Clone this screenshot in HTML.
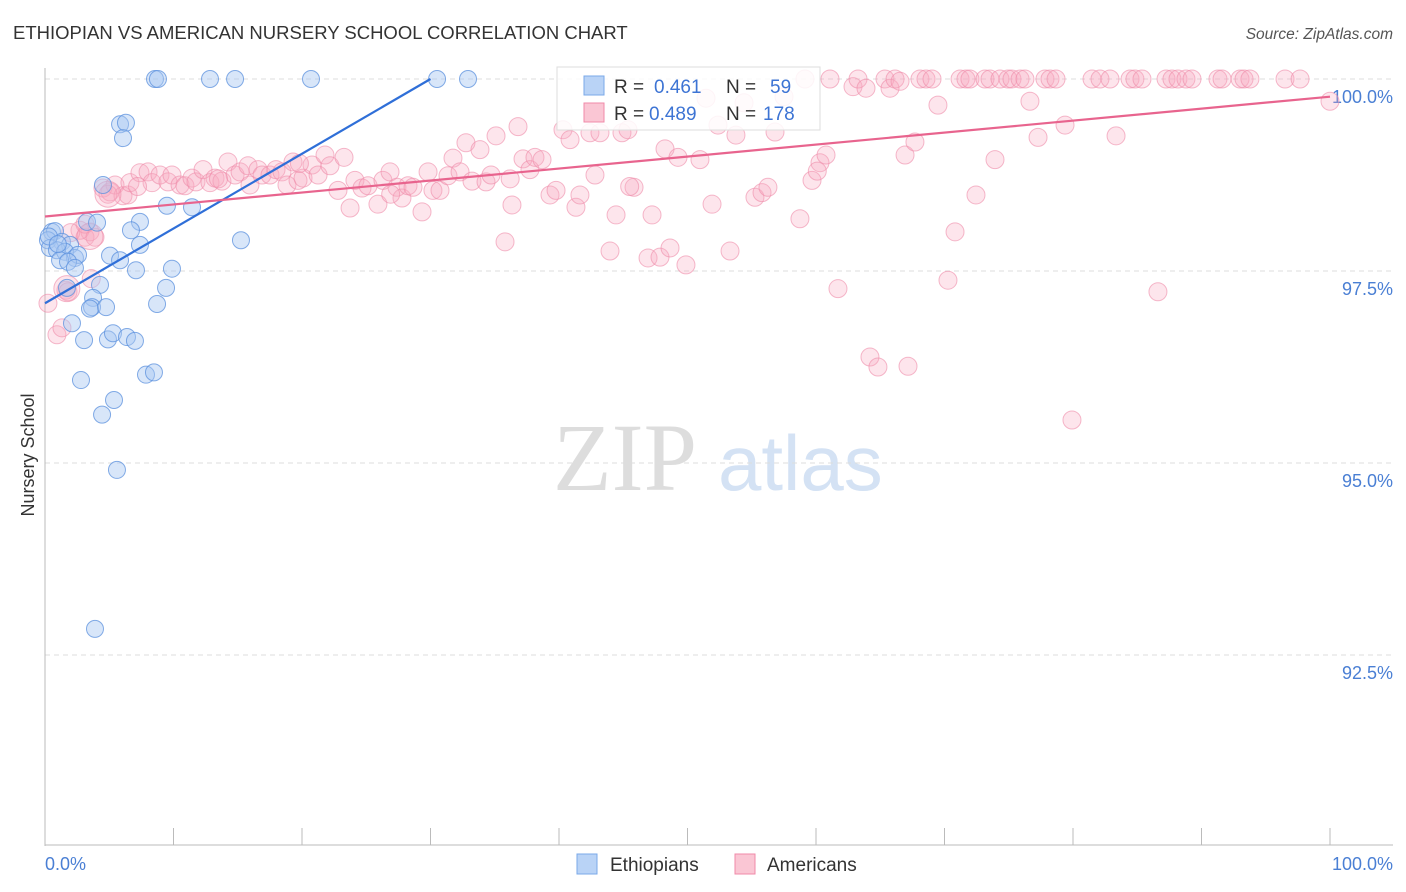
<!DOCTYPE html>
<html><head><meta charset="utf-8">
<style>
body{margin:0;background:#fff;font-family:"Liberation Sans",sans-serif;}
svg{display:block}
</style></head>
<body>
<svg id="chart" width="1406" height="892">
<text x="13" y="39" font-size="18.5" fill="#333">ETHIOPIAN VS AMERICAN NURSERY SCHOOL CORRELATION CHART</text>
<text x="1393" y="39" font-size="15.5" fill="#555" font-style="italic" text-anchor="end">Source: ZipAtlas.com</text>
<text x="0" y="0" transform="translate(34,455) rotate(-90)" font-size="18" fill="#333" text-anchor="middle">Nursery School</text>
<g>
<text x="553" y="490" font-size="96" fill="#ddd" font-family="Liberation Serif,serif">ZIP</text>
<text x="718" y="490" font-size="78" fill="#d4e2f4">atlas</text>
</g>
<g id="grid"></g>
<g id="axes"></g>
<g id="pts"></g>
<g id="lines"></g>
<g>
<rect x="557" y="67" width="263" height="63" fill="#fff" fill-opacity="0.85" stroke="#ddd"/>
<rect x="584" y="76" width="20" height="19" fill="#b9d3f6" stroke="#7aa8e8"/>
<text x="614" y="93" font-size="19" fill="#333">R = </text>
<text x="654" y="93" font-size="19" fill="#3d74d4">0.461</text>
<text x="726" y="93" font-size="19" fill="#333">N = </text>
<text x="770" y="93" font-size="19" fill="#3d74d4">59</text>
<rect x="584" y="103" width="20" height="19" fill="#fac6d4" stroke="#f08aa8"/>
<text x="614" y="120" font-size="19" fill="#333">R = </text>
<text x="649" y="120" font-size="19" fill="#3d74d4">0.489</text>
<text x="726" y="120" font-size="19" fill="#333">N = </text>
<text x="763" y="120" font-size="19" fill="#3d74d4">178</text>
</g>
<g>
<rect x="577" y="854" width="20" height="20" fill="#b9d3f6" stroke="#7aa8e8"/>
<text x="610" y="871" font-size="19" fill="#333">Ethiopians</text>
<rect x="735" y="854" width="20" height="20" fill="#fac6d4" stroke="#f08aa8"/>
<text x="767" y="871" font-size="19" fill="#333">Americans</text>
</g>
<text x="45" y="870" font-size="18" fill="#4a7fd4">0.0%</text>
<text x="1393" y="870" font-size="18" fill="#4a7fd4" text-anchor="end">100.0%</text>
</svg>
<script>
const yTicks=[100,97.5,95,92.5];
const yTickLabels=["100.0%","97.5%","95.0%","92.5%"];
const xTicks=[0,10,20,30,40,50,60,70,80,90,100];
const ethiopians=[[8.56,100],[8.79,100],[12.84,100],[14.79,100],[20.70,100],[30.51,100],[32.92,100],
[5.84,99.41],[6.30,99.43],[6.07,99.23],
[4.51,98.62],[9.49,98.35],[11.44,98.33],[3.27,98.14],[4.05,98.13],[7.39,98.14],[6.69,98.03],
[0.54,98.01],[0.78,98.02],[0.23,97.90],[1.32,97.88],[1.95,97.84],[0.39,97.80],[0.93,97.77],[1.56,97.75],[2.33,97.67],[2.57,97.71],[1.17,97.64],[1.79,97.62],[2.33,97.54],[7.39,97.84],[5.06,97.70],[5.84,97.64],[7.08,97.51],[9.88,97.53],[15.25,97.90],[0.3,97.95],[1.0,97.85],
[1.71,97.28],[4.28,97.32],[9.42,97.28],[3.74,97.15],[3.66,97.03],[3.50,97.01],[4.75,97.03],[8.72,97.07],
[2.10,96.82],[3.04,96.60],[4.90,96.61],[5.29,96.69],[6.38,96.64],[7.00,96.59],
[2.80,96.08],[7.86,96.15],[8.48,96.18],[5.37,95.82],[4.44,95.63],[5.60,94.91],[3.89,92.84]];
const americans=[[0.23,97.08],[0.93,96.67],[1.32,96.76],[1.63,97.25],[1.79,97.23],[3.11,97.94],[3.50,98.01],[2.72,98.03],[3.89,97.94],[3.11,98.11],
[4.51,98.58],[5.06,98.53],[5.45,98.62],[6.07,98.48],[6.46,98.49],[6.61,98.65],[7.39,98.78],[8.02,98.79],[8.33,98.65],[8.95,98.75],[9.57,98.66],[9.88,98.75],[10.51,98.62],[10.89,98.61],[11.44,98.71],[11.75,98.66],[12.30,98.82],[12.84,98.65],[13.23,98.71],[13.77,98.67],[14.24,98.92],[14.79,98.75],[15.18,98.79],[15.80,98.87],[15.95,98.62],[16.58,98.82],[16.89,98.75],[17.51,98.75],[17.98,98.82],[18.44,98.79],[18.83,98.62],[19.30,98.92],[19.69,98.68],[20.08,98.71],[20.78,98.88],[21.25,98.75],[21.79,99.01],[22.18,98.87],[22.80,98.55],[23.27,98.98],[23.74,98.32],[24.12,98.68],[24.67,98.58],[25.14,98.61],[25.91,98.37],[26.30,98.68],[26.85,98.79],[27.39,98.59],[27.78,98.45],[28.25,98.61],[28.64,98.59],[29.34,98.27],[29.81,98.79],[30.19,98.55],[30.74,98.55],[31.36,98.74],[31.75,98.97],[32.30,98.79],[32.76,99.17],[33.23,98.67],[33.85,99.08],[34.32,98.66],[34.71,98.75],[35.10,99.26],[35.80,97.88],[36.34,98.36],[36.81,99.38],[37.20,98.96],[37.74,98.82],[38.13,98.98],[38.68,98.95],[39.30,98.49],[39.77,98.55],[40.31,99.34],[40.86,99.21],[41.32,98.33],[41.63,98.49],[42.41,99.30],[42.80,98.75],[43.19,99.30],[43.97,97.76],[44.44,98.23],[44.90,99.30],[45.37,99.34],[45.84,98.59],[46.93,97.67],[47.24,98.23],[47.86,97.68],[48.25,99.09],[48.64,97.80],[49.26,98.98],[49.88,97.58],[50.97,98.95],[51.44,99.75],[51.91,98.37],[52.37,99.40],[53.31,97.76],[53.77,99.27],[54.40,99.69],[55.25,98.46],[55.80,98.52],[56.26,98.59],[56.81,99.31],[57.51,99.77],[58.75,98.18],[59.14,100],[59.69,98.68],[60.31,98.91],[60.78,99.01],[61.09,100],[61.71,97.27],[62.88,99.90],[63.27,100],[63.89,99.88],[64.20,96.38],[64.82,96.25],[65.37,100],[65.76,99.88],[66.15,100],[66.54,99.97],[66.93,99.01],[67.16,96.26],[67.70,99.18],[68.09,100],[68.56,100],[69.03,100],[69.49,99.66],[70.27,97.38],[70.82,98.01],[71.21,100],[71.67,100],[71.98,100],[72.45,98.49],[73.15,100],[73.54,100],[73.93,98.95],[74.32,100],[74.94,100],[75.25,100],[75.88,100],[76.26,100],[76.65,99.71],[77.28,99.24],[77.82,100],[78.21,100],[78.68,100],[79.38,99.40],[79.92,95.56],[81.48,100],[82.10,100],[82.88,100],[83.35,99.26],[84.44,100],[84.82,100],[85.37,100],[86.61,97.23],[87.24,100],[87.70,100],[88.17,100],[88.79,100],[89.26,100],[91.28,100],[91.60,100],[93.00,100],[93.31,100],[93.77,100],[96.50,100],[97.67,100],[100,99.71],[2.0,98.0],[4.9,98.5],[3.6,97.4],[7.2,98.6],[13.5,98.7],[19.8,98.9],[26.9,98.5],[60.1,98.8],[36.2,98.7],[45.5,98.6]];
const bigPink=[[3.5,97.95],[4.9,98.5],[1.7,97.27]];
const blueFit=[[0,97.08],[30,100]];
const pinkFit=[[0,98.21],[100,99.77]];

const X0=45,X1=1330,Y100=79,PXPER=76.8;
function xs(v){return X0+(X1-X0)*v/100;}
function ys(v){return Y100+(100-v)*PXPER;}
const NS="http://www.w3.org/2000/svg";
function mk(tag,attrs,parent){const e=document.createElementNS(NS,tag);for(const k in attrs)e.setAttribute(k,attrs[k]);parent.appendChild(e);return e;}
const grid=document.getElementById('grid');
yTicks.forEach((t,i)=>{
  const l=mk('line',{x1:45,x2:1393,y1:ys(t),y2:ys(t),stroke:'#ddd','stroke-dasharray':'5,4'},grid);
  
  
  const tx=mk('text',{x:1393,y:ys(t)+24,'font-size':18,fill:'#4a7fd4','text-anchor':'end'},grid);
  tx.textContent=yTickLabels[i];
  
  
});
const axes=document.getElementById('axes');
const ya=mk('line',{x1:45,x2:45,y1:68,y2:846,stroke:'#bbb'},axes);


const xa=mk('line',{x1:45,x2:1393,y1:845,y2:845,stroke:'#bbb'},axes);


xTicks.forEach(t=>{
  const tk=mk('line',{x1:xs(t),x2:xs(t),y1:828,y2:845,stroke:'#bbb'},axes);
  
  
});
const pts=document.getElementById('pts');
americans.forEach(p=>{
  const c=mk('circle',{cx:xs(p[0]),cy:ys(p[1]),r:9,fill:'#f7a8bf','fill-opacity':0.3,stroke:'#ee8aa8','stroke-opacity':0.6},pts);
  
  
});
bigPink.forEach(p=>{
  const c=mk('circle',{cx:xs(p[0]),cy:ys(p[1]),r:13,fill:'#f7a8bf','fill-opacity':0.3,stroke:'#ee8aa8','stroke-opacity':0.6},pts);
  
  
});
ethiopians.forEach(p=>{
  const c=mk('circle',{cx:xs(p[0]),cy:ys(p[1]),r:8.5,fill:'#a9c8f2','fill-opacity':0.45,stroke:'#5b90dd','stroke-opacity':0.75},pts);
  
  
});
const lines=document.getElementById('lines');
const bl=mk('line',{x1:xs(blueFit[0][0]),y1:ys(blueFit[0][1]),x2:xs(blueFit[1][0]),y2:ys(blueFit[1][1]),stroke:'#2f6fd8','stroke-width':2.2},lines);


const pl=mk('line',{x1:xs(pinkFit[0][0]),y1:ys(pinkFit[0][1]),x2:xs(pinkFit[1][0]),y2:ys(pinkFit[1][1]),stroke:'#e8648e','stroke-width':2.2},lines);


</script>
</body></html>
